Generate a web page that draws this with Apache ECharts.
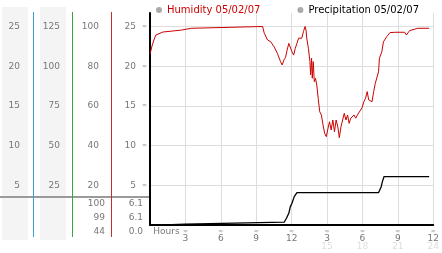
<!DOCTYPE html>
<html><head><meta charset="utf-8">
<script src="https://cdn.jsdelivr.net/npm/echarts@6/dist/echarts.min.js"></script>
<style>html,body{margin:0;padding:0;background:#fff}#c{width:442px;height:253px}</style>
</head><body><div id="c"></div>
<script>
// ---- data ----
const legendNames = ['Humidity 05/02/07', 'Precipitation 05/02/07'];
const humidityHours = [0.00,0.17,0.33,0.50,0.66,1.08,1.24,2.66,2.82,3.49,3.65,9.54,9.68,9.96,10.23,10.51,10.79,11.06,11.20,11.34,11.48,11.62,11.76,11.89,12.03,12.17,12.31,12.45,12.59,12.72,12.86,13.00,13.14,13.22,13.28,13.42,13.55,13.61,13.69,13.75,13.83,13.92,14.02,14.13,14.25,14.38,14.52,14.66,14.80,14.94,15.08,15.21,15.35,15.49,15.63,15.77,15.91,16.04,16.18,16.32,16.46,16.60,16.74,16.87,17.01,17.15,17.29,17.43,17.57,17.70,17.84,17.98,18.12,18.26,18.40,18.53,18.67,18.81,18.95,19.09,19.23,19.36,19.44,19.64,19.78,20.06,20.33,20.75,21.58,21.72,21.99,22.41,22.68,23.65];
const humidityValues = [86,90.2,93.2,95.7,96.7,97.2,98,98.2,99.1,99.1,100,100,96.6,93.2,92.3,89.8,86.5,82.3,80.6,83.1,84.3,88.2,91.5,90.7,87.3,85.6,89,91.5,94.1,94.9,94.1,97.4,100,98.2,94.1,89,82.3,75.6,84,73.9,82.3,72.2,73.9,70.5,63.8,57.1,55.4,50.4,46.2,44.5,48.7,52,47.9,52.9,47,52.9,49.5,44,49.5,52.9,56.3,52.9,55.4,51.2,53.8,52.9,55.4,53.8,55.4,56.3,57.9,59.3,62.1,63.8,67.2,63,63.8,62.1,67.2,71.4,72.2,77.2,84,87.3,92.3,94.9,96.9,97.1,97.1,95.7,97.9,98.6,99.1,99.1];
const precipHours = [0,1.22,1.24,2.97,2.99,11.37,11.56,11.76,11.89,12.03,12.22,12.45,19.36,19.59,19.69,19.83,23.65];
const precipValues = [0,0,0.1,0.1,0.35,0.35,0.85,1.47,2.31,2.73,3.57,4.07,4.07,4.83,5.46,6.1,6.1];
const humidityStats = ['100', '99', '44'];
const precipStats = ['6.1', '6.1', '0.0'];
const hourTicks = [0,3,6,9,12,15,18,21,24];

// ---- chart ----
const FONT = 'DejaVu Sans';
const TOP = 26.7;
const chart = echarts.init(document.getElementById('c'), null, {renderer:'canvas'});
const zip = (a,b) => a.map((v,i)=>[v,b[i]]);
const statRows = [204, 218, 232];
const graphic = [
  {type:'rect', z:-10, shape:{x:2,y:7,width:26,height:233}, style:{fill:'#f4f4f4'}},
  {type:'rect', z:-10, shape:{x:40,y:7,width:26,height:233}, style:{fill:'#f4f4f4'}},
  {type:'line', shape:{x1:0,y1:197,x2:150,y2:197}, style:{stroke:'#9a9a9a',lineWidth:2}},
  {type:'line', shape:{x1:33.5,y1:12,x2:33.5,y2:237}, style:{stroke:'#3a9fd6',lineWidth:1}},
  {type:'line', shape:{x1:72.5,y1:12,x2:72.5,y2:237}, style:{stroke:'#3aa53a',lineWidth:1}},
  {type:'line', shape:{x1:111.5,y1:12,x2:111.5,y2:237}, style:{stroke:'#c03030',lineWidth:1}}
];
humidityStats.forEach((t,i)=>graphic.push({type:'text', style:{text:t, x:105, y:statRows[i], align:'right', verticalAlign:'middle', fill:'#777', font:'9px "DejaVu Sans"'}}));
precipStats.forEach((t,i)=>graphic.push({type:'text', style:{text:t, x:143, y:statRows[i], align:'right', verticalAlign:'middle', fill:'#777', font:'9px "DejaVu Sans"'}}));

function sideAxis(max, interval, offset, margin){
  return {type:'value', position:'left', min:0, max:max, interval:interval, offset:offset,
    axisLine:{show:false}, axisTick:{show:false}, splitLine:{show:false},
    axisLabel:{margin:margin, color:'#777', fontSize:9, fontFamily:FONT, showMinLabel:false, showMaxLabel:false}};
}

chart.setOption({
  animation:false,
  textStyle:{fontFamily:FONT},
  graphic: graphic,
  legend:{left:151, top:0, icon:'circle', itemWidth:6, itemHeight:6, itemGap:37,
    textStyle:{fontSize:10, fontFamily:FONT},
    data:[{name:legendNames[0], textStyle:{color:'#cc0000'}, itemStyle:{color:'#aaa'}},
          {name:legendNames[1], textStyle:{color:'#000'}, itemStyle:{color:'#aaa'}}]},
  grid:{left:150, right:3, top:13, bottom:28},
  xAxis:{type:'value', min:0, max:24, interval:3,
    axisLine:{lineStyle:{color:'#000', width:2}}, axisTick:{show:false},
    splitLine:{lineStyle:{color:'#ddd'}},
    axisLabel:{margin:3.5, color:'#777', fontFamily:FONT,
      formatter:function(v){
        if (v === 0) return '{h|Hours}';
        if (hourTicks.indexOf(v) < 0) return '';
        if (v <= 12) return '{t|≈}\n{n|' + v + '}';
        return '{t|≈}\n{n|' + (v-12) + '}\n{s|' + v + '}';
      },
      rich:{
        h:{fontSize:9, lineHeight:7, color:'#777', padding:[0,0,0,33]},
        t:{fontSize:6, lineHeight:6, color:'#999'},
        n:{fontSize:9, lineHeight:8, color:'#777'},
        s:{fontSize:9, lineHeight:8, color:'#ddd'}
      }}},
  yAxis:[
    {type:'value', position:'left', min:0, max:TOP, interval:5,
      axisLine:{show:true, lineStyle:{color:'#000', width:2}}, axisTick:{show:false},
      splitLine:{lineStyle:{color:'#ddd'}, showMaxLine:false},
      axisLabel:{margin:3, showMaxLabel:false,
        formatter:function(v){ return (v===0 || v>25) ? '' : '{v|'+v+'}{t|≈}'; },
        rich:{v:{fontSize:9, color:'#777', padding:[0,6,0,0]}, t:{fontSize:6, color:'#999'}}}},
    sideAxis(TOP*4, 20, 39, 12),
    sideAxis(TOP*5, 25, 77.5, 12.5),
    sideAxis(TOP, 5, 117, 13)
  ],
  series:[
    {name:legendNames[0], type:'line', yAxisIndex:1, showSymbol:false, data:zip(humidityHours, humidityValues),
      lineStyle:{color:'#cc0000', width:1}, itemStyle:{color:'#cc0000'}},
    {name:legendNames[1], type:'line', yAxisIndex:0, showSymbol:false, data:zip(precipHours, precipValues),
      lineStyle:{color:'#000', width:1.3}, itemStyle:{color:'#000'}}
  ]
});
</script></body></html>
